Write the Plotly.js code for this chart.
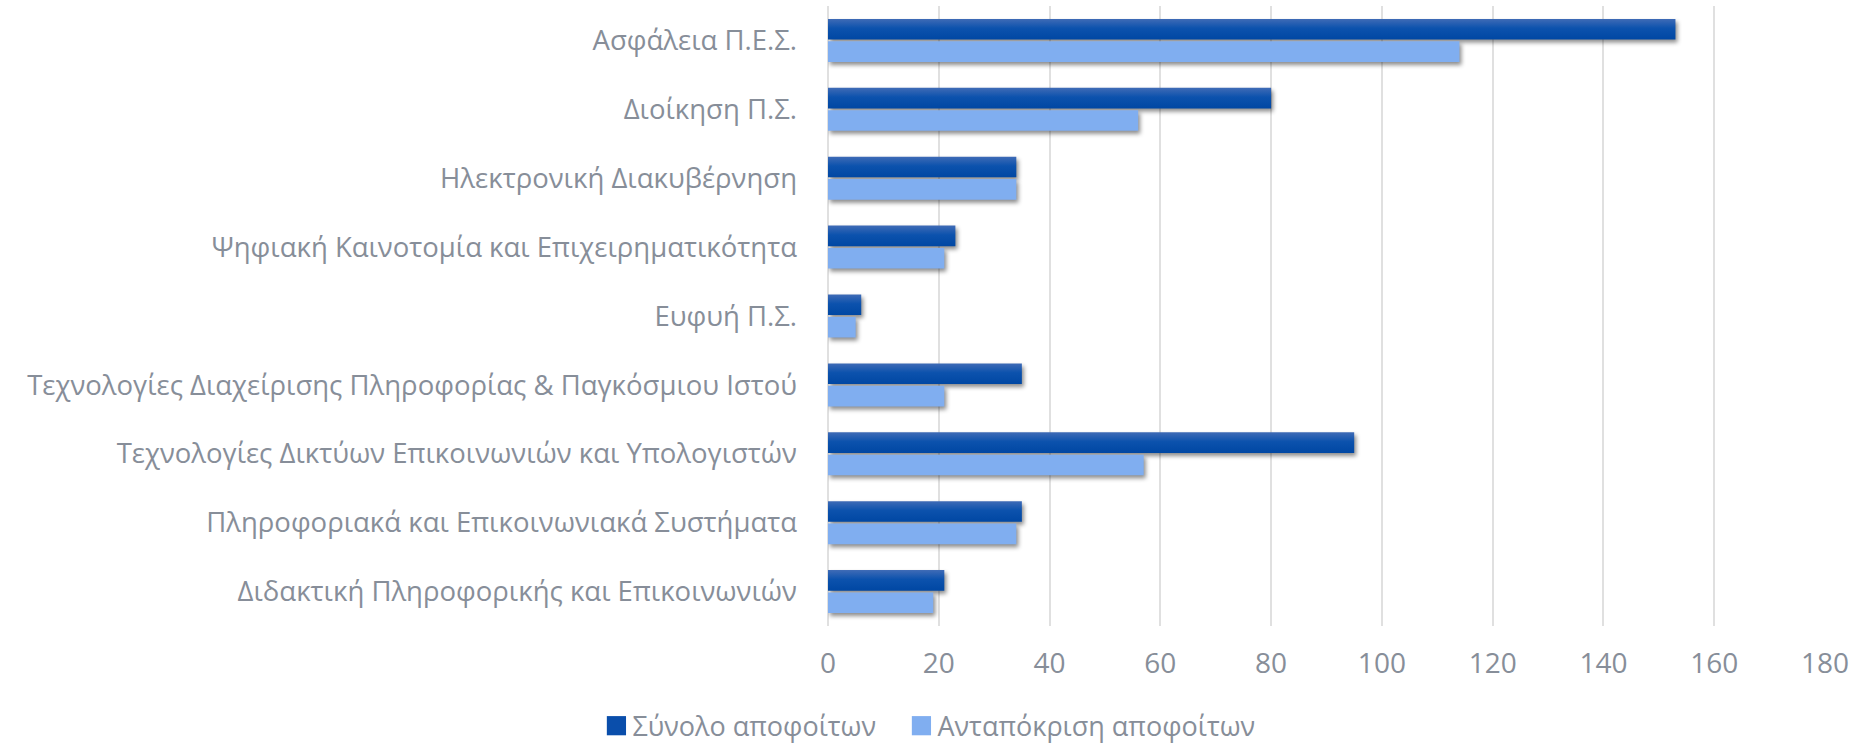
<!DOCTYPE html>
<html>
<head>
<meta charset="utf-8">
<script src="https://cdn.plot.ly/plotly-3.0.1.min.js"></script>
<style>
  html, body { margin: 0; padding: 0; background: #fff; }
  #chart { width: 1863px; height: 744px; }
  .barlayer .trace path { filter: drop-shadow(2px 3px 2px rgba(0,0,0,0.45)); }
</style>
</head>
<body>
<div id="chart"></div>
<script>
const categories = [
  "Ασφάλεια Π.Ε.Σ.",
  "Διοίκηση Π.Σ.",
  "Ηλεκτρονική Διακυβέρνηση",
  "Ψηφιακή Καινοτομία και Επιχειρηματικότητα",
  "Ευφυή Π.Σ.",
  "Τεχνολογίες Διαχείρισης Πληροφορίας & Παγκόσμιου Ιστού",
  "Τεχνολογίες Δικτύων Επικοινωνιών και Υπολογιστών",
  "Πληροφοριακά και Επικοινωνιακά Συστήματα",
  "Διδακτική Πληροφορικής και Επικοινωνιών"
];
const totalGraduates = [153, 80, 34, 23, 6, 35, 95, 35, 21];
const respondingGraduates = [114, 56, 34, 21, 5, 21, 57, 34, 19];
const seriesNames = ["Σύνολο αποφοίτων", "Ανταπόκριση αποφοίτων"];
const xTicks = [0, 20, 40, 60, 80, 100, 120, 140, 160, 180];

const fontFamily = "'Open Sans', sans-serif";
const textColor = "#878e99";

const data = [
  {
    type: "bar", orientation: "h", name: seriesNames[0],
    y: categories, x: totalGraduates,
    marker: { color: "#0a4eab" }, hoverinfo: "x+y"
  },
  {
    type: "bar", orientation: "h", name: seriesNames[1],
    y: categories, x: respondingGraduates,
    marker: { color: "#80aef0" }, hoverinfo: "x+y"
  }
];

const layout = {
  width: 1863, height: 744,
  margin: { l: 828, r: 38, t: 6, b: 118 },
  paper_bgcolor: "#ffffff", plot_bgcolor: "#ffffff",
  font: { family: fontFamily, size: 27.5, color: textColor },
  barmode: "group", bargap: 0.35, bargroupgap: 0.08,
  showlegend: true,
  legend: {
    orientation: "h", xref: "container", yref: "container",
    x: 0.318, xanchor: "left", y: 0.024, yanchor: "middle",
    font: { family: fontFamily, size: 27, color: textColor },
    itemwidth: 30, tracegroupgap: 0, itemclick: false
  },
  xaxis: {
    range: [0, 180], tickvals: xTicks, ticktext: xTicks.map(String),
    showgrid: true, gridcolor: "#e0e0e0", gridwidth: 2,
    zeroline: true, zerolinecolor: "#e0e0e0", zerolinewidth: 2,
    showline: false, ticks: "", ticklabelstandoff: 18,
    tickfont: { family: fontFamily, size: 28, color: textColor },
    fixedrange: true
  },
  yaxis: {
    type: "category", autorange: "reversed",
    showgrid: false, zeroline: false, showline: false, ticks: "",
    ticklabelstandoff: 30,
    tickfont: { family: fontFamily, size: 27.5, color: textColor },
    fixedrange: true
  }
};

Plotly.newPlot("chart", data, layout, { displayModeBar: false, staticPlot: true }).then(function (gd) {
  const svg = gd.querySelector("svg.main-svg");
  const ns = "http://www.w3.org/2000/svg";
  const defs = document.createElementNS(ns, "defs");
  defs.innerHTML =
    '<linearGradient id="gradDark" x1="0" y1="0" x2="0" y2="1">' +
    '<stop offset="0" stop-color="#3f6bb6"/><stop offset="0.45" stop-color="#0c52ad"/>' +
    '<stop offset="1" stop-color="#0047a3"/></linearGradient>';
  svg.insertBefore(defs, svg.firstChild);
  const traces = gd.querySelectorAll(".barlayer .trace");
  if (traces.length) {
    traces[0].querySelectorAll("path").forEach(function (p) {
      p.style.fill = "url(#gradDark)";
    });
  }
  gd.querySelectorAll(".legend .legendpoints path").forEach(function (p) {
    p.style.filter = "none";
    p.setAttribute("transform", "translate(24,0) scale(1.6)");
  });
  // remove legend clipping so the re-spaced entries stay fully visible
  gd.querySelectorAll(".legend [clip-path]").forEach(function (el) {
    el.removeAttribute("clip-path");
  });
  // spacing between the two legend entries as in the reference
  const items = gd.querySelectorAll(".legend .traces");
  if (items.length === 2) {
    const parse = function (el) {
      const m = /translate\(\s*([-\d.]+)[ ,]+([-\d.]+)/.exec(el.getAttribute("transform") || "");
      return m ? [parseFloat(m[1]), parseFloat(m[2])] : [0, 0];
    };
    const a = parse(items[0]);
    const b = parse(items[1]);
    items[1].setAttribute("transform", "translate(" + (a[0] + 305) + "," + b[1] + ")");
  }
});
</script>
</body>
</html>
